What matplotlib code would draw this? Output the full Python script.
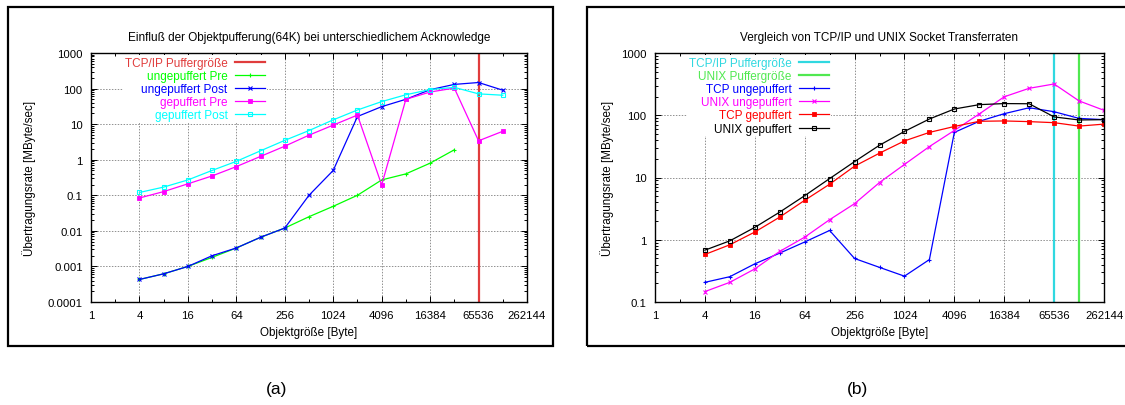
import numpy as np
import matplotlib
matplotlib.use("Agg")
import matplotlib.pyplot as plt
from matplotlib.patches import Rectangle
from matplotlib.ticker import FixedLocator, FuncFormatter, LogLocator, NullFormatter

plt.rcParams['font.family'] = ['Liberation Sans', 'DejaVu Sans']
plt.rcParams['font.size'] = 8.2

# ---- Daten (a) ----
groesse_a = [4, 8, 16, 32, 64, 128, 256, 512, 1024, 2048, 4096, 8192, 16384, 32768, 65536, 131072]
groesse_pre = [4, 8, 16, 32, 64, 128, 256, 512, 1024, 2048, 4096, 8192, 16384, 32768]
ungepuffert_pre = [0.00043, 0.00062, 0.001, 0.0018, 0.0033, 0.0066, 0.012, 0.025, 0.049, 0.1, 0.27, 0.4, 0.8, 1.9]
ungepuffert_post = [0.00043, 0.00062, 0.001, 0.002, 0.0033, 0.0066, 0.012, 0.1, 0.5, 16.4, 31, 50, 93, 131, 148, 90]
gepuffert_pre = [0.084, 0.127, 0.21, 0.35, 0.64, 1.24, 2.4, 4.9, 9.4, 18, 0.195, 50, 80, 103, 3.4, 6.3]
gepuffert_post = [0.12, 0.17, 0.27, 0.5, 0.9, 1.78, 3.5, 6.6, 13.2, 25, 43, 67, 94, 108, 71, 65]
tcp_puffer_a = 65536

# ---- Daten (b) ----
groesse_b = [4, 8, 16, 32, 64, 128, 256, 512, 1024, 2048, 4096, 8192, 16384, 32768, 65536, 131072, 262144]
tcp_ungepuffert = [0.207, 0.255, 0.41, 0.61, 0.92, 1.41, 0.50, 0.36, 0.26, 0.48, 53, 80, 106, 132, 114, 89, 85]
unix_ungepuffert = [0.147, 0.207, 0.34, 0.65, 1.1, 2.1, 3.8, 8.3, 16.2, 31.4, 57, 105, 198, 271, 318, 170, 120]
tcp_gepuffert = [0.58, 0.83, 1.33, 2.31, 4.3, 7.8, 15.2, 24.6, 38.7, 53, 66, 80, 81, 79, 76, 67, 72]
unix_gepuffert = [0.68, 0.96, 1.58, 2.78, 5.1, 9.6, 18, 33, 55, 87, 126, 148, 154, 153, 94, 84, 85]
tcp_puffer_b = 65536
unix_puffer_b = 131072

xticks = [1, 4, 16, 64, 256, 1024, 4096, 16384, 65536, 262144]

W, H = 1125, 406
fig = plt.figure(figsize=(W / 100, H / 100), dpi=100)


def px(x0, y0, x1, y1):
    # Pixelbox (von oben links) -> Figure-Koordinaten
    return [x0 / W, 1 - y1 / H, (x1 - x0) / W, (y1 - y0) / H]


def style_axes(ax, ymin, ylabel_x):
    ax.set_xscale('log', base=2)
    ax.set_yscale('log')
    ax.set_xlim(1, 262144)
    ax.set_ylim(ymin, 1000)
    ax.xaxis.set_major_locator(FixedLocator(xticks))
    ax.xaxis.set_major_formatter(FuncFormatter(lambda v, p: '%d' % round(v)))
    ax.xaxis.set_minor_locator(FixedLocator([2 ** k for k in range(1, 18, 2)]))
    ax.xaxis.set_minor_formatter(NullFormatter())
    ax.yaxis.set_major_formatter(FuncFormatter(lambda v, p: '%g' % v))
    ax.yaxis.set_minor_locator(LogLocator(base=10, subs=np.arange(2, 10)))
    ax.yaxis.set_minor_formatter(NullFormatter())
    ax.tick_params(which='both', direction='in', top=True, right=True, labelsize=8.2, width=0.7)
    ax.tick_params(which='major', length=4, pad=6)
    ax.tick_params(which='minor', length=2)
    for s in ax.spines.values():
        s.set_linewidth(1.0)
    ax.grid(True, which='major', linestyle=(0, (1.5, 1.5)), color='#909090', linewidth=0.7)
    ax.set_xlabel('Objektgröße [Byte]', fontsize=8.4, labelpad=4)
    ax.set_ylabel('Übertragungsrate [MByte/sec]', fontsize=8.4)
    ax.yaxis.set_label_coords(ylabel_x, 0.5)


def legende(ax, breite):
    leg = ax.legend(loc='upper right', bbox_to_anchor=(176 / breite, 1 - 2 / 249), frameon=True, markerfirst=False,
                    labelcolor='linecolor', fontsize=8.5, handlelength=2.6, handletextpad=0.6,
                    labelspacing=0.1, borderpad=0.15, borderaxespad=0, fancybox=False)
    leg.get_frame().set_facecolor('white')
    leg.get_frame().set_edgecolor('none')
    leg.get_frame().set_alpha(1)
    leg.get_frame().set_linewidth(0)
    leg.set_zorder(2.2)


# ---- (a) ----
ax1 = fig.add_axes(px(91, 54, 527, 303))
ax1.axvline(tcp_puffer_a, color='#e03c3c', lw=1.6, label='TCP/IP Puffergröße')
ax1.plot(groesse_pre, ungepuffert_pre, color='#00ff00', lw=0.9, marker='+', ms=3, mew=0.8, label='ungepuffert Pre')
ax1.plot(groesse_a, ungepuffert_post, color='#0000ff', lw=0.9, marker='x', ms=3, mew=0.8, label='ungepuffert Post')
ax1.plot(groesse_a, gepuffert_pre, color='#ff00ff', lw=0.9, marker='s', ms=2.5, mew=0.6, label='gepuffert Pre')
ax1.plot(groesse_a, gepuffert_post, color='#00ffff', lw=0.9, marker='s', ms=3.2, mew=0.8, mfc='none', label='gepuffert Post')
style_axes(ax1, 1e-4, -0.125)
ax1.set_title('Einfluß der Objektpufferung(64K) bei unterschiedlichem Acknowledge', fontsize=8.5, pad=9)
legende(ax1, 436)

# ---- (b) ----
ax2 = fig.add_axes(px(655, 54, 1104, 303))
ax2.axvline(tcp_puffer_b, color='#30d8e0', lw=1.6, label='TCP/IP Puffergröße')
ax2.axvline(unix_puffer_b, color='#50e850', lw=1.6, label='UNIX Puffergröße')
ax2.plot(groesse_b, tcp_ungepuffert, color='#0000ff', lw=0.9, marker='+', ms=3, mew=0.8, label='TCP ungepuffert')
ax2.plot(groesse_b, unix_ungepuffert, color='#ff00ff', lw=0.9, marker='x', ms=3, mew=0.8, label='UNIX ungepuffert')
ax2.plot(groesse_b, tcp_gepuffert, color='#ff0000', lw=0.9, marker='s', ms=2.5, mew=0.6, label='TCP gepuffert')
ax2.plot(groesse_b, unix_gepuffert, color='#000000', lw=0.9, marker='s', ms=3.2, mew=0.8, mfc='none', label='UNIX gepuffert')
style_axes(ax2, 0.1, -0.092)
ax2.set_title('Vergleich von TCP/IP und UNIX Socket Transferraten', fontsize=8.5, pad=9)
legende(ax2, 449)

# Rahmen
for x0, x1 in [(8, 553), (587, 1140)]:
    fig.patches.append(Rectangle((x0 / W, 1 - 347 / H), (x1 - x0) / W, 339 / H, transform=fig.transFigure,
                                 fill=False, edgecolor='black', linewidth=1.6))

fig.text(277 / W, 1 - 390 / H, '(a)', ha='center', va='center', fontsize=12.5)
fig.text(858 / W, 1 - 390 / H, '(b)', ha='center', va='center', fontsize=12.5)

fig.savefig('out.png', dpi=100)
